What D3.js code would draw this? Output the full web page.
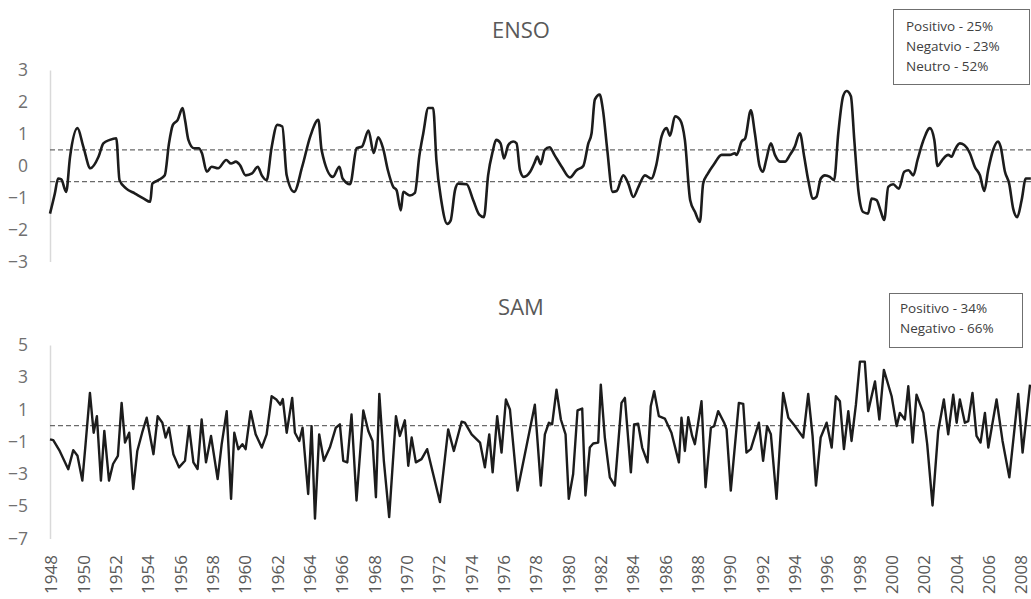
<!DOCTYPE html>
<html>
<head>
<meta charset="utf-8">
<script src="https://cdn.jsdelivr.net/npm/d3@7"></script>
<style>
  html, body { margin: 0; padding: 0; background: #fff; }
  svg { display: block; font-family: "Open Sans", sans-serif; }
</style>
</head>
<body>
<div id="chart"></div>
<script>
// ENSO index (decimal year, value)
const ensoYears = [
  1948.0, 1948.3, 1948.5, 1948.7, 1949.0, 1949.24, 1949.7, 1950.06, 1950.5, 1951.0,
  1951.3, 1951.7, 1952.1, 1952.3, 1952.7, 1953.26, 1953.8, 1954.2, 1954.33, 1954.7,
  1955.1, 1955.36, 1955.6, 1955.9, 1956.2, 1956.35, 1956.56, 1956.9, 1957.2, 1957.4,
  1957.7, 1958.0, 1958.4, 1958.9, 1959.2, 1959.5, 1959.75, 1960.1, 1960.5, 1960.85,
  1961.1, 1961.4, 1961.7, 1962.06, 1962.37, 1962.64, 1963.1, 1963.6, 1964.1, 1964.6,
  1964.8, 1965.5, 1965.9, 1966.1, 1966.56, 1966.97, 1967.3, 1967.7, 1968.02, 1968.3,
  1968.6, 1968.9, 1969.23, 1969.44, 1969.7, 1969.85, 1970.26, 1970.57, 1970.84, 1971.09,
  1971.4, 1971.7, 1971.9, 1972.2, 1972.57, 1972.78, 1973.05, 1973.25, 1973.77, 1974.18,
  1974.55, 1974.84, 1975.1, 1975.38, 1975.6, 1975.87, 1976.08, 1976.35, 1976.65, 1976.86,
  1977.07, 1977.3, 1977.7, 1978.0, 1978.14, 1978.35, 1978.6, 1978.9, 1979.2, 1979.65,
  1980.16, 1980.57, 1980.98, 1981.3, 1981.5, 1981.7, 1982.0, 1982.2, 1982.47, 1982.8,
  1983.05, 1983.46, 1983.77, 1984.08, 1984.4, 1984.8, 1985.2, 1985.5, 1985.83, 1986.14,
  1986.35, 1986.66, 1986.97, 1987.27, 1987.6, 1987.9, 1988.2, 1988.4, 1988.7, 1989.1,
  1989.54, 1990.05, 1990.36, 1990.47, 1990.78, 1991.0, 1991.35, 1991.6, 1991.9, 1992.1,
  1992.3, 1992.59, 1992.84, 1993.15, 1993.46, 1993.77, 1994.07, 1994.38, 1994.65, 1994.9,
  1995.2, 1995.4, 1995.68, 1995.93, 1996.24, 1996.5, 1996.76, 1997.06, 1997.27, 1997.54,
  1997.75, 1998.0, 1998.3, 1998.6, 1998.82, 1999.13, 1999.37, 1999.6, 1999.85, 2000.16,
  2000.5, 2000.84, 2001.1, 2001.4, 2001.66, 2002.0, 2002.43, 2002.7, 2002.9, 2003.19,
  2003.56, 2003.77, 2003.97, 2004.28, 2004.55, 2004.9, 2005.2, 2005.52, 2005.79, 2006.03,
  2006.34, 2006.65, 2006.8, 2007.07, 2007.33, 2007.58, 2007.83, 2008.1, 2008.36, 2008.67
];
const ensoValues = [
  -1.5, -0.87, -0.4, -0.43, -0.82, 0.28, 1.18, 0.6, -0.08, 0.28,
  0.7, 0.81, 0.86, -0.45, -0.71, -0.87, -1.03, -1.13, -0.56, -0.45,
  -0.3, 0.7, 1.28, 1.44, 1.81, 1.44, 0.81, 0.55, 0.55, 0.39,
  -0.19, -0.03, -0.08, 0.18, 0.07, 0.13, 0.02, -0.3, -0.24, -0.03,
  -0.3, -0.45, 0.55, 1.28, 1.23, -0.3, -0.82, -0.03, 0.92, 1.44,
  0.49, -0.35, -0.03, -0.4, -0.58, 0.55, 0.6, 1.1, 0.4, 0.89,
  0.55, -0.14, -0.66, -0.77, -1.4, -0.82, -0.93, -0.85, 0.29, 1.02,
  1.81, 1.81, 0.18, -1.08, -1.82, -1.72, -0.77, -0.56, -0.58, -1.08,
  -1.53, -1.61, -0.3, 0.44, 0.81, 0.7, 0.23, 0.65, 0.76, 0.7,
  -0.14, -0.35, -0.19, 0.13, 0.29, 0.05, 0.5, 0.58, 0.34, -0.03,
  -0.37, -0.14, -0.01, 0.7, 1.02, 2.07, 2.23, 1.76, 0.5, -0.82,
  -0.79, -0.3, -0.56, -0.98, -0.66, -0.3, -0.4, 0.02, 0.92, 1.18,
  0.94, 1.55, 1.44, 0.81, -1.08, -1.45, -1.76, -0.56, -0.24, 0.07,
  0.34, 0.34, 0.39, 0.34, 0.76, 0.86, 1.74, 1.02, -0.03, -0.19,
  0.18, 0.7, 0.34, 0.13, 0.13, 0.34, 0.6, 1.02, 0.29, -0.45,
  -1.03, -0.98, -0.4, -0.3, -0.35, -0.45, 1.02, 2.18, 2.34, 2.18,
  0.81, -0.77, -1.45, -1.5, -1.03, -1.08, -1.4, -1.7, -0.66, -0.58,
  -0.72, -0.19, -0.14, -0.3, 0.18, 0.76, 1.18, 0.81, -0.01, 0.18,
  0.34, 0.28, 0.5, 0.7, 0.65, 0.39, -0.03, -0.3, -0.79, -0.14,
  0.5, 0.76, 0.6, -0.19, -0.56, -1.35, -1.61, -1.08, -0.4, -0.4
];

// SAM index (decimal year, value)
const samYears = [
  1948.0, 1948.2, 1948.6, 1949.13, 1949.44, 1949.7, 1950.0, 1950.2, 1950.47, 1950.7,
  1950.9, 1951.15, 1951.36, 1951.65, 1951.9, 1952.2, 1952.43, 1952.64, 1952.9, 1953.15,
  1953.4, 1953.7, 1953.98, 1954.4, 1954.66, 1954.95, 1955.15, 1955.36, 1955.63, 1955.98,
  1956.35, 1956.6, 1956.87, 1957.13, 1957.38, 1957.65, 1957.96, 1958.37, 1958.62, 1958.93,
  1959.2, 1959.4, 1959.65, 1959.9, 1960.1, 1960.41, 1960.72, 1961.1, 1961.4, 1961.71,
  1962.0, 1962.25, 1962.4, 1962.64, 1962.98, 1963.15, 1963.42, 1963.62, 1963.97, 1964.18,
  1964.39, 1964.65, 1964.94, 1965.31, 1965.68, 1965.93, 1966.14, 1966.39, 1966.65, 1966.96,
  1967.38, 1967.69, 1967.95, 1968.16, 1968.37, 1968.65, 1968.98, 1969.4, 1969.64, 1969.95,
  1970.16, 1970.37, 1970.63, 1970.98, 1971.33, 1971.7, 1972.12, 1972.63, 1972.98, 1973.46,
  1973.66, 1974.08, 1974.6, 1974.9, 1975.17, 1975.38, 1975.66, 1975.93, 1976.2, 1976.45,
  1976.92, 1977.99, 1978.36, 1978.61, 1978.86, 1979.06, 1979.33, 1979.6, 1979.89, 1980.09,
  1980.36, 1980.63, 1980.92, 1981.12, 1981.39, 1981.6, 1981.91, 1982.07, 1982.32, 1982.63,
  1982.94, 1983.35, 1983.56, 1983.93, 1984.13, 1984.38, 1984.63, 1984.96, 1985.16, 1985.37,
  1985.66, 1986.03, 1986.44, 1986.9, 1987.06, 1987.27, 1987.48, 1987.72, 1987.89, 1988.3,
  1988.55, 1988.88, 1989.08, 1989.33, 1989.7, 1989.85, 1990.11, 1990.61, 1990.88, 1991.08,
  1991.35, 1991.85, 1992.11, 1992.36, 1992.59, 1992.94, 1993.35, 1993.67, 1994.08, 1994.59,
  1994.9, 1995.17, 1995.38, 1995.67, 1996.04, 1996.35, 1996.61, 1996.86, 1997.11, 1997.38,
  1997.58, 1997.85, 1998.1, 1998.4, 1998.61, 1999.03, 1999.3, 1999.58, 2000.06, 2000.37,
  2000.57, 2000.88, 2001.09, 2001.36, 2001.6, 2002.02, 2002.26, 2002.59, 2002.94, 2003.29,
  2003.56, 2003.87, 2004.08, 2004.28, 2004.59, 2004.8, 2005.06, 2005.31, 2005.56, 2005.83,
  2006.04, 2006.55, 2006.92, 2007.34, 2007.89, 2008.16, 2008.62
];
const samValues = [
  -0.85, -0.9, -1.57, -2.7, -1.52, -1.87, -3.41, -1.15, 2.03, -0.44,
  0.59, -3.41, -0.33, -3.41, -2.38, -1.87, 1.41, -1.05, -0.44, -3.93,
  -1.57, -0.44, 0.49, -1.77, 0.59, 0.18, -0.74, -0.13, -1.77, -2.59,
  -2.18, -0.03, -2.28, -2.69, 0.38, -2.28, -0.64, -3.31, -1.15, 0.9,
  -4.54, -0.44, -1.46, -1.15, -1.46, 0.9, -0.54, -1.36, -0.54, 1.82,
  1.62, 1.3, 1.65, -0.44, 1.72, -0.44, -0.95, -0.13, -4.24, -0.03,
  -5.77, -0.54, -2.18, -1.36, -0.13, 0.08, -2.18, -2.28, 0.69, -4.64,
  0.94, -0.33, -0.95, -4.44, 1.97, -2.18, -5.67, 0.59, -0.64, 0.33,
  -2.49, -0.74, -2.28, -2.08, -1.46, -3.0, -4.74, -0.23, -1.57, 0.24,
  0.18, -0.54, -1.05, -2.59, -0.54, -2.9, 0.59, -1.67, 1.62, 1.0,
  -4.03, 1.3, -3.72, -0.54, 0.18, 0.08, 2.23, 0.38, -0.54, -4.54,
  -3.0, 0.94, 1.06, -4.33, -1.36, -1.11, -1.05, 2.54, -0.74, -3.21,
  -3.72, 1.41, 1.72, -2.9, 0.08, 0.12, -1.36, -2.28, 1.2, 2.13,
  0.59, 0.44, -0.44, -2.28, 0.49, -1.57, 0.52, -0.64, -1.15, 1.51,
  -3.82, -0.13, -0.03, 0.9, 0.18, -0.23, -4.03, 1.41, 1.35, -1.67,
  -1.46, 0.18, -2.18, -0.03, -0.54, -4.54, 2.03, 0.49, -0.03, -0.74,
  1.97, -0.64, -3.72, -0.74, 0.18, -1.36, 1.82, 1.51, -1.46, 0.9,
  -0.95, 1.3, 3.97, 3.97, 0.9, 2.74, 0.38, 3.46, 1.82, -0.03,
  0.79, 0.38, 2.44, -1.05, 1.92, 0.79, -1.15, -4.95, -0.33, 1.62,
  -0.54, 1.92, 0.18, 1.62, 0.18, 0.28, 2.03, -0.64, -1.05, 0.79,
  -1.36, 1.62, -0.95, -3.21, 1.97, -1.67, 2.54
];

const yearTicks = d3.range(1948, 2009, 2);
const ensoTicks = [3, 2, 1, 0, -1, -2, -3];
const samTicks = [5, 3, 1, -1, -3, -5, -7];
const ensoLimits = [0.5, -0.5];
const samLimits = [0];
const ensoLegend = ["Positivo - 25%", "Negatvio - 23%", "Neutro - 52%"];
const samLegend = ["Positivo - 34%", "Negativo - 66%"];

const width = 1031;
const height = 599;

const svg = d3.select("#chart").append("svg")
  .attr("width", width)
  .attr("height", height);

const x = d3.scaleLinear().domain([1948, 2008]).range([50, 1020]);

// one panel = title, y axis, dashed limits, line, legend box
function drawPanel(opts) {
  const y = d3.scaleLinear().domain(opts.domain).range(opts.range);

  svg.append("text")
    .attr("x", 521)
    .attr("y", opts.titleY)
    .attr("text-anchor", "middle")
    .style("font-size", "22px")
    .style("fill", "#595959")
    .text(opts.title);

  const yAxis = svg.append("g")
    .attr("transform", "translate(50,0)")
    .call(d3.axisLeft(y).tickValues(opts.ticks).tickFormat(d3.format("d"))
      .tickSize(0).tickSizeOuter(0).tickPadding(22));
  yAxis.select(".domain").attr("stroke", "#d9d9d9").attr("stroke-width", 1.5);
  yAxis.selectAll("text")
    .style("font-family", "'Open Sans', sans-serif")
    .style("font-size", "17.5px")
    .style("fill", "#707070");

  svg.append("g")
    .selectAll("line")
    .data(opts.limits)
    .join("line")
    .attr("x1", 50)
    .attr("x2", width)
    .attr("y1", (d) => y(d))
    .attr("y2", (d) => y(d))
    .attr("stroke", "#6a6a6a")
    .attr("stroke-width", 1.2)
    .attr("stroke-dasharray", "5,3");

  const pts = opts.years.map((yr, i) => [yr, opts.values[i]]);
  const line = d3.line()
    .x((d) => x(d[0]))
    .y((d) => y(d[1]))
    .curve(opts.curve);

  svg.append("path")
    .datum(pts)
    .attr("d", line)
    .attr("fill", "none")
    .attr("stroke", "#1c1c1c")
    .attr("stroke-width", opts.lineWidth)
    .attr("stroke-linejoin", "round");

  const box = opts.box;
  svg.append("rect")
    .attr("x", box.x + 0.5)
    .attr("y", box.y + 0.5)
    .attr("width", box.w)
    .attr("height", box.h)
    .attr("fill", "#fff")
    .attr("stroke", "#6f6f6f")
    .attr("stroke-width", 1);

  svg.append("g")
    .selectAll("text")
    .data(opts.legend)
    .join("text")
    .attr("x", box.x + box.pad)
    .attr("y", (d, i) => box.firstBase + i * 20)
    .style("font-size", "13.5px")
    .style("fill", "#404040")
    .text((d) => d);

  return y;
}

drawPanel({
  title: "ENSO",
  titleY: 38,
  domain: [-3, 3],
  range: [261.5, 70],
  ticks: ensoTicks,
  limits: ensoLimits,
  years: ensoYears,
  values: ensoValues,
  curve: d3.curveMonotoneX,
  lineWidth: 2.6,
  legend: ensoLegend,
  box: { x: 893, y: 9, w: 136, h: 75, pad: 13, firstBase: 30.5 }
});

drawPanel({
  title: "SAM",
  titleY: 315,
  domain: [-7, 5],
  range: [538.5, 345],
  ticks: samTicks,
  limits: samLimits,
  years: samYears,
  values: samValues,
  curve: d3.curveLinear,
  lineWidth: 2.4,
  legend: samLegend,
  box: { x: 889, y: 293, w: 133, h: 54, pad: 11, firstBase: 313 }
});

// Year labels under the SAM panel, rotated
const xAxis = svg.append("g")
  .attr("transform", "translate(0,545)")
  .call(d3.axisBottom(x).tickValues(yearTicks).tickFormat(d3.format("d")).tickSize(0));
xAxis.select(".domain").remove();
xAxis.selectAll("text")
  .attr("transform", "rotate(-90)")
  .attr("x", -10)
  .attr("y", 0)
  .attr("dy", "0.4em")
  .attr("text-anchor", "end")
  .style("font-family", "'Open Sans', sans-serif")
  .style("font-size", "17px")
  .style("fill", "#595959");
</script>
</body>
</html>
